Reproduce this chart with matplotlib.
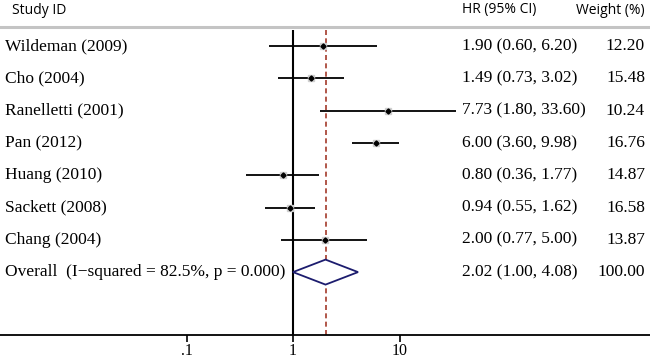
import numpy as np
import matplotlib.pyplot as plt
import matplotlib.transforms as mtransforms

studies = ["Wildeman (2009)", "Cho (2004)", "Ranelletti (2001)", "Pan (2012)",
           "Huang (2010)", "Sackett (2008)", "Chang (2004)"]
hr = [1.90, 1.49, 7.73, 6.00, 0.80, 0.94, 2.00]
lo = [0.60, 0.73, 1.80, 3.60, 0.36, 0.55, 0.77]
hi = [6.20, 3.02, 33.60, 9.98, 1.77, 1.62, 5.00]
weights = [12.20, 15.48, 10.24, 16.76, 14.87, 16.58, 13.87]

overall_label = "Overall  (I\u2212squared = 82.5%, p = 0.000)"
overall_hr, overall_lo, overall_hi = 2.02, 1.00, 4.08
overall_weight = 100.00

xticks = [0.1, 1, 10]
xticklabels = [".1", "1", "10"]

W, H = 650, 358
fig = plt.figure(figsize=(W / 100, H / 100), dpi=100)
ax = fig.add_axes([0, 0, 1, 1])

# pixel layout: 1 at x=293, one decade = 106.5 px; rows start at y=46, 32.3 px apart
x0, dec = 293.0, 106.5
y0, step = 46.0, 32.3
ax.set_xscale("log")
ax.set_xlim(10 ** (-x0 / dec), 10 ** ((W - x0) / dec))
ax.set_ylim((H - y0) / step, -y0 / step)

def py(p):
    return (p - y0) / step

serif = "Liberation Serif"
sans = "Open Sans"
fs = 12.5

n = len(studies)
rows = np.arange(n)

# CI lines and point estimates
ax.hlines(rows, lo, hi, color="black", lw=1.3, zorder=3)
ax.plot(hr, rows, ls="none", marker="s", ms=5, mfc="#cfcfcf", mec="#cfcfcf", zorder=4)
ax.plot(hr, rows, ls="none", marker="D", ms=2.6, color="black", zorder=5)

# overall diamond
yo = n
dh = 12.5 / step
ax.fill([overall_lo, overall_hr, overall_hi, overall_hr, overall_lo],
        [yo, yo - dh, yo, yo + dh, yo], facecolor="white", edgecolor="#1c1c6e", lw=1.3, zorder=3)

# reference lines
ax.vlines(1, py(30), py(335), color="black", lw=1.5, zorder=2)
ax.vlines(overall_hr, py(30), py(335), color="#a33a2a", lw=1.2, linestyles=(0, (3, 2)), zorder=2)

# header separator
ax.axhline(py(27), color="#c4c4c4", lw=2.2)

# bottom axis
for s in ["top", "left", "right"]:
    ax.spines[s].set_visible(False)
ax.spines["bottom"].set_position(("data", py(335)))
ax.spines["bottom"].set_linewidth(1.3)
ax.set_xticks(xticks)
ax.set_xticklabels(xticklabels, fontfamily=serif, fontsize=11.5)
ax.minorticks_off()
ax.tick_params(axis="x", direction="out", length=5, width=1.2, pad=1)
ax.set_yticks([])

tr = mtransforms.blended_transform_factory(fig.transFigure, ax.transData)

# headers
ax.text(12 / W, py(10), "Study ID", transform=tr, fontfamily=sans, fontsize=10, va="center", ha="left")
ax.text(462 / W, py(10), "HR (95% CI)", transform=tr, fontfamily=sans, fontsize=10, va="center", ha="left")
ax.text(645 / W, py(10), "Weight (%)", transform=tr, fontfamily=sans, fontsize=10, va="center", ha="right")

for i in range(n):
    ax.text(5 / W, i, studies[i], transform=tr, fontfamily=serif, fontsize=fs, va="center")
    ax.text(462 / W, i, f"{hr[i]:.2f} ({lo[i]:.2f}, {hi[i]:.2f})", transform=tr,
            fontfamily=serif, fontsize=fs, va="center")
    ax.text(645 / W, i, f"{weights[i]:.2f}", transform=tr, fontfamily=serif, fontsize=fs,
            va="center", ha="right")

ax.text(5 / W, yo, overall_label, transform=tr, fontfamily=serif, fontsize=fs, va="center")
ax.text(462 / W, yo, f"{overall_hr:.2f} ({overall_lo:.2f}, {overall_hi:.2f})", transform=tr,
        fontfamily=serif, fontsize=fs, va="center")
ax.text(645 / W, yo, f"{overall_weight:.2f}", transform=tr, fontfamily=serif, fontsize=fs,
        va="center", ha="right")

fig.savefig("out.png", dpi=100)
